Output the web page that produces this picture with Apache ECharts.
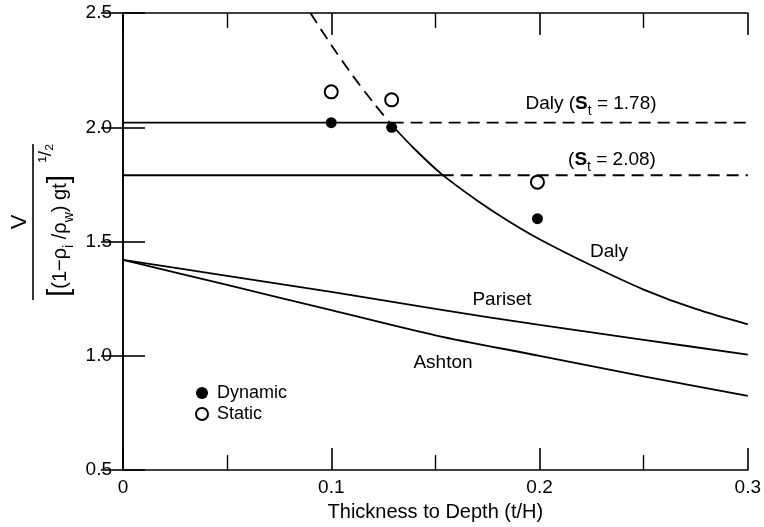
<!DOCTYPE html>
<html>
<head>
<meta charset="utf-8">
<script src="https://cdn.jsdelivr.net/npm/echarts@6/dist/echarts.min.js"></script>
<style>
html,body{margin:0;padding:0;background:#fff;}
#chart{width:764px;height:527px;}
</style>
</head>
<body>
<div id="chart"></div>
<script>
// ---- data ----
const xTicks = [0, 0.1, 0.2, 0.3];
const yTicks = [0.5, 1.0, 1.5, 2.0, 2.5];

const dalyDashX = [0.09, 0.1, 0.11, 0.12, 0.129];
const dalyDashY = [2.5, 2.36, 2.23, 2.11, 2.01];
const dalySolidX = [0.129, 0.14, 0.153, 0.17, 0.185, 0.2, 0.225, 0.25, 0.275, 0.3];
const dalySolidY = [2.01, 1.905, 1.795, 1.68, 1.59, 1.51, 1.395, 1.29, 1.205, 1.138];

const level178 = 2.02;            // Daly (St = 1.78)
const level178SolidX = [0, 0.129];
const level178DashX = [0.129, 0.3];
const level208 = 1.79;            // (St = 2.08)
const level208SolidX = [0, 0.153];
const level208DashX = [0.153, 0.3];

const parisetX = [0, 0.05, 0.1, 0.15, 0.2, 0.25, 0.3];
const parisetY = [1.42, 1.35, 1.28, 1.205, 1.135, 1.07, 1.005];
const ashtonX = [0, 0.05, 0.1, 0.15, 0.2, 0.25, 0.3];
const ashtonY = [1.42, 1.31, 1.2, 1.09, 1.0, 0.91, 0.825];

const dynamicX = [0.1, 0.129, 0.199];
const dynamicY = [2.02, 2.0, 1.60];
const staticX = [0.1, 0.129, 0.199];
const staticY = [2.155, 2.12, 1.76];

// ---- helpers ----
const pairs = (xs, ys) => xs.map((x, i) => [x, ys[i]]);
const flat = (xs, v) => xs.map(x => [x, v]);

const FONT = '"Liberation Sans", Arial, Helvetica, sans-serif';
const INK = '#000';
const LW = 1.8;
const DASH = [12, 7];

function lineSeries(data, dashed, smooth) {
  return {
    type: 'line', data: data, symbol: 'none', smooth: smooth ? 0.3 : false,
    silent: true, z: 3,
    lineStyle: { color: INK, width: LW, type: dashed ? DASH : 'solid' }
  };
}

const subRich = {
  b: { fontFamily: FONT, fontSize: 19, fontWeight: 'bold', color: INK },
  s: { fontFamily: FONT, fontSize: 14, color: INK, verticalAlign: 'bottom', lineHeight: 28 },
  n: { fontFamily: FONT, fontSize: 19, color: INK }
};

function label(text, x, y) {
  return {
    type: 'text', x: x, y: y, z: 10,
    style: {
      text: text, fontFamily: FONT, fontSize: 19, fill: INK,
      align: 'center', verticalAlign: 'middle', rich: subRich
    }
  };
}

const chart = echarts.init(document.getElementById('chart'), null, { renderer: 'canvas' });

const axisCommon = {
  type: 'value',
  axisLine: { show: true, lineStyle: { color: INK, width: 1.6 } },
  axisTick: { show: true, inside: true, length: 22, lineStyle: { color: INK, width: 1.6 } },
  splitLine: { show: false }
};

const option = {
  animation: false,
  backgroundColor: '#fff',
  grid: { left: 123, right: 15, top: 13, bottom: 54, containLabel: false },
  xAxis: [
    Object.assign({}, axisCommon, {
      min: xTicks[0], max: xTicks[xTicks.length - 1], interval: 0.1, position: 'bottom',
      name: 'Thickness to Depth (t/H)', nameLocation: 'middle', nameGap: 27,
      nameTextStyle: { fontFamily: FONT, fontSize: 20, color: INK },
      minorTick: { show: true, splitNumber: 2, length: 15, lineStyle: { color: INK, width: 1.4 } },
      axisLabel: { margin: 8, fontFamily: FONT, fontSize: 19, color: INK,
        formatter: v => (v === 0 ? '0' : v.toFixed(1)) }
    }),
    Object.assign({}, axisCommon, {
      min: xTicks[0], max: xTicks[xTicks.length - 1], interval: 0.1, position: 'top',
      minorTick: { show: true, splitNumber: 2, length: 15, lineStyle: { color: INK, width: 1.4 } },
      axisLabel: { show: false }
    })
  ],
  yAxis: [
    Object.assign({}, axisCommon, {
      min: yTicks[0], max: yTicks[yTicks.length - 1], interval: 0.5, position: 'left',
      axisLabel: { margin: 11, fontFamily: FONT, fontSize: 19, color: INK,
        formatter: v => v.toFixed(1) }
    }),
    Object.assign({}, axisCommon, {
      min: yTicks[0], max: yTicks[yTicks.length - 1], interval: 0.5, position: 'right',
      axisLabel: { show: false }
    })
  ],
  legend: {
    data: [{ name: 'Dynamic', icon: 'circle' }, { name: 'Static', icon: 'emptyCircle' }],
    orient: 'vertical', left: 190, top: 379,
    itemWidth: 12, itemHeight: 12, itemGap: 3,
    textStyle: { fontFamily: FONT, fontSize: 18, color: INK, padding: [0, 0, 0, 4] },
    selectedMode: false
  },
  series: [
    lineSeries(pairs(dalyDashX, dalyDashY), true, true),
    lineSeries(pairs(dalySolidX, dalySolidY), false, true),
    lineSeries(flat(level178SolidX, level178), false, false),
    lineSeries(flat(level178DashX, level178), true, false),
    lineSeries(flat(level208SolidX, level208), false, false),
    lineSeries(flat(level208DashX, level208), true, false),
    lineSeries(pairs(parisetX, parisetY), false, true),
    lineSeries(pairs(ashtonX, ashtonY), false, true),
    {
      name: 'Dynamic', type: 'scatter', data: pairs(dynamicX, dynamicY),
      symbol: 'circle', symbolSize: 11, z: 5,
      itemStyle: { color: INK, opacity: 1 }
    },
    {
      name: 'Static', type: 'scatter', data: pairs(staticX, staticY),
      symbol: 'emptyCircle', symbolSize: 13, z: 5,
      itemStyle: { color: INK, borderColor: INK, borderWidth: 1.8, opacity: 1 }
    }
  ],
  graphic: [
    label('Daly ({b|S}{s|t} = 1.78)', 591, 104),
    label('({b|S}{s|t} = 2.08)', 612, 160),
    label('Daly', 609, 252),
    label('Pariset', 502, 300),
    label('Ashton', 443, 363),
    {
      type: 'group', x: 33, y: 222, rotation: Math.PI / 2, z: 10,
      children: [
        { type: 'line', shape: { x1: -78, y1: 0, x2: 78, y2: 0 },
          style: { stroke: INK, lineWidth: 1.6 } },
        { type: 'text', x: 0, y: -13,
          style: { text: 'V', fontFamily: FONT, fontSize: 22, fill: INK,
            align: 'center', verticalAlign: 'middle' } },
        { type: 'text', x: -14, y: 27,
          style: {
            text: '{br|[}{n|(1−ρ}{s|i}{n| /ρ}{s|w}{n|) gt}{br|]}',
            align: 'center', verticalAlign: 'middle', fill: INK,
            rich: {
              br: { fontFamily: FONT, fontSize: 30, color: INK },
              n: { fontFamily: FONT, fontSize: 20, color: INK },
              s: { fontFamily: FONT, fontSize: 14, color: INK, verticalAlign: 'bottom', lineHeight: 32 }
            }
          } },
        { type: 'text', x: 69, y: 13,
          style: { text: '¹/₂', fontFamily: FONT, fontSize: 19, fill: INK,
            align: 'center', verticalAlign: 'middle' } }
      ]
    }
  ]
};

chart.setOption(option);
</script>
</body>
</html>
